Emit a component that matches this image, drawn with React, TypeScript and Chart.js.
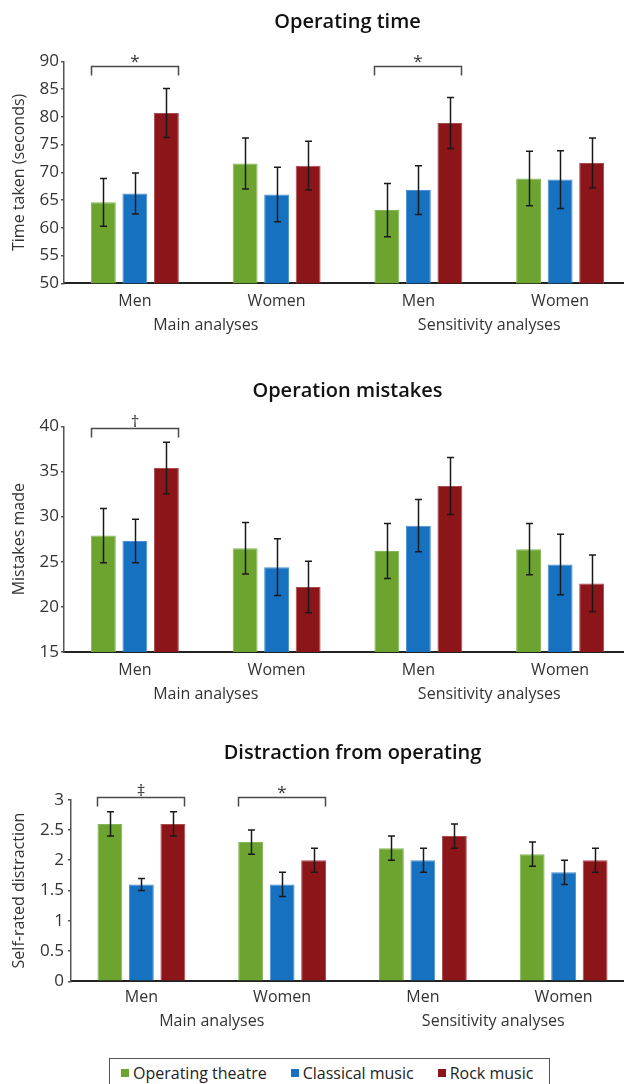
import React, { useEffect, useRef } from 'react';
import { Chart, registerables } from 'chart.js';

Chart.register(...registerables);

const FONT = '"Open Sans", "Noto Sans", sans-serif';

// ---------- data ----------
const categories = ['Men', 'Women', 'Men', 'Women'];
const analysisGroups = ['Main analyses', 'Sensitivity analyses'];
const seriesNames = ['Operating theatre', 'Classical music', 'Rock music'];
const seriesColors = ['#6ca42f', '#1672c1', '#8b1519'];
const seriesEdgeColors = ['#84b656', '#4a90d0', '#a94a4d'];

// Operating time (seconds)
const timeTheatre = [64.6, 71.6, 63.2, 68.9];
const timeClassical = [66.2, 66.0, 66.8, 68.7];
const timeRock = [80.7, 71.2, 78.9, 71.7];
const timeTheatreErr = [4.3, 4.6, 4.8, 4.9];
const timeClassicalErr = [3.7, 4.9, 4.4, 5.2];
const timeRockErr = [4.4, 4.4, 4.6, 4.5];
const timeAxis = [50, 90, 5]; // min, max, step

// Operation mistakes
const mistakesTheatre = [27.9, 26.5, 26.2, 26.4];
const mistakesClassical = [27.3, 24.4, 29.0, 24.7];
const mistakesRock = [35.4, 22.2, 33.4, 22.6];
const mistakesTheatreErr = [3.0, 2.85, 3.05, 2.85];
const mistakesClassicalErr = [2.4, 3.15, 2.9, 3.35];
const mistakesRockErr = [2.85, 2.85, 3.15, 3.15];
const mistakesAxis = [15, 40, 5];

// Distraction from operating
const distractionTheatre = [2.6, 2.3, 2.2, 2.1];
const distractionClassical = [1.6, 1.6, 2.0, 1.8];
const distractionRock = [2.6, 2.0, 2.4, 2.0];
const distractionTheatreErr = [0.2, 0.2, 0.2, 0.2];
const distractionClassicalErr = [0.1, 0.2, 0.2, 0.2];
const distractionRockErr = [0.2, 0.2, 0.2, 0.2];
const distractionAxis = [0, 3, 0.5];

// significance brackets (category index + symbol), bracket level in data units
const timeBrackets = [{ cat: 0, symbol: '*' }, { cat: 2, symbol: '*' }];
const timeBracketLevel = 89.2;
const mistakesBrackets = [{ cat: 0, symbol: '†' }];
const mistakesBracketLevel = 39.8;
const distractionBrackets = [{ cat: 0, symbol: '‡' }, { cat: 1, symbol: '*' }];
const distractionBracketLevel = 3.05;

// ---------- panels ----------
type Panel = {
  title: string;
  yTitle: string;
  series: number[][];
  errors: number[][];
  axis: number[];
  brackets: { cat: number; symbol: string }[];
  bracketLevel: number;
  top: number;
  height: number;
  titlePadTop: number;
  titlePadBottom: number;
  axisWidth: number;
  rightPad: number;
  bottomPad: number;
  yTickPad: number;
  xTickPad: number;
  groupPad: number;
  categoryPercentage: number;
};

const panels: Panel[] = [
  {
    title: 'Operating time',
    yTitle: 'Time taken (seconds)',
    series: [timeTheatre, timeClassical, timeRock],
    errors: [timeTheatreErr, timeClassicalErr, timeRockErr],
    axis: timeAxis,
    brackets: timeBrackets,
    bracketLevel: timeBracketLevel,
    top: 0,
    height: 340,
    titlePadTop: 10.2,
    titlePadBottom: 27.2,
    axisWidth: 64,
    rightPad: 9,
    bottomPad: 3.7,
    yTickPad: 2,
    xTickPad: 9,
    groupPad: 7,
    categoryPercentage: 0.667,
  },
  {
    title: 'Operation mistakes',
    yTitle: 'Mistakes made',
    series: [mistakesTheatre, mistakesClassical, mistakesRock],
    errors: [mistakesTheatreErr, mistakesClassicalErr, mistakesRockErr],
    axis: mistakesAxis,
    brackets: mistakesBrackets,
    bracketLevel: mistakesBracketLevel,
    top: 360,
    height: 350,
    titlePadTop: 19.2,
    titlePadBottom: 23.2,
    axisWidth: 64,
    rightPad: 9,
    bottomPad: 5,
    yTickPad: 2,
    xTickPad: 9,
    groupPad: 7,
    categoryPercentage: 0.667,
  },
  {
    title: 'Distraction from operating',
    yTitle: 'Self-rated distraction',
    series: [distractionTheatre, distractionClassical, distractionRock],
    errors: [distractionTheatreErr, distractionClassicalErr, distractionRockErr],
    axis: distractionAxis,
    brackets: distractionBrackets,
    bracketLevel: distractionBracketLevel,
    top: 730,
    height: 310,
    titlePadTop: 11.2,
    titlePadBottom: 34.5,
    axisWidth: 71,
    rightPad: 6,
    bottomPad: 5.7,
    yTickPad: 4,
    xTickPad: 7,
    groupPad: 5,
    categoryPercentage: 0.671,
  },
];

function makeErrorPlugin(panel: Panel) {
  return {
    id: 'errorBars',
    afterDatasetsDraw(chart: any) {
      const y = chart.scales.y;
      const ctx = chart.ctx;
      ctx.save();
      ctx.strokeStyle = '#1a1a1a';
      ctx.lineWidth = 1.5;
      chart.data.datasets.forEach((ds: any, di: number) => {
        const meta = chart.getDatasetMeta(di);
        meta.data.forEach((bar: any, i: number) => {
          const v = ds.data[i];
          const e = panel.errors[di][i];
          const x = Math.round(bar.x) + 0.5;
          const yt = y.getPixelForValue(v + e);
          const yb = y.getPixelForValue(v - e);
          const cap = 3.5;
          ctx.beginPath();
          ctx.moveTo(x, yt);
          ctx.lineTo(x, yb);
          ctx.moveTo(x - cap, yt);
          ctx.lineTo(x + cap, yt);
          ctx.moveTo(x - cap, yb);
          ctx.lineTo(x + cap, yb);
          ctx.stroke();
        });
      });
      ctx.restore();
    },
  };
}

function makeBracketPlugin(panel: Panel) {
  return {
    id: 'sigBrackets',
    afterDatasetsDraw(chart: any) {
      const y = chart.scales.y;
      const ctx = chart.ctx;
      const n = chart.data.datasets.length;
      const first = chart.getDatasetMeta(0);
      const last = chart.getDatasetMeta(n - 1);
      const ly = Math.round(y.getPixelForValue(panel.bracketLevel)) + 0.5;
      const drop = 9;
      ctx.save();
      ctx.strokeStyle = '#4a4a4a';
      ctx.lineWidth = 1.5;
      ctx.fillStyle = '#333';
      ctx.font = `17px ${FONT}`;
      ctx.textAlign = 'center';
      ctx.textBaseline = 'alphabetic';
      panel.brackets.forEach((b) => {
        const a = first.data[b.cat];
        const c = last.data[b.cat];
        const x0 = Math.round(a.x - a.width / 2) + 0.5;
        const x1 = Math.round(c.x + c.width / 2) - 0.5;
        ctx.beginPath();
        ctx.moveTo(x0, ly + drop);
        ctx.lineTo(x0, ly);
        ctx.lineTo(x1, ly);
        ctx.lineTo(x1, ly + drop);
        ctx.stroke();
        const m = ctx.measureText(b.symbol);
        const cy = ly - 7.5;
        const base = cy + (m.actualBoundingBoxAscent - m.actualBoundingBoxDescent) / 2;
        ctx.fillText(b.symbol, (x0 + x1) / 2, base);
      });
      ctx.restore();
    },
  };
}

function BarPanel({ panel }: { panel: Panel }) {
  const ref = useRef<HTMLCanvasElement>(null);
  useEffect(() => {
    const canvas = ref.current;
    if (!canvas) return;
    const [yMin, yMax, yStep] = panel.axis;
    const chart = new Chart(canvas, {
      type: 'bar',
      data: {
        labels: categories,
        datasets: panel.series.map((data, i) => ({
          label: seriesNames[i],
          data,
          backgroundColor: seriesColors[i],
          borderColor: seriesEdgeColors[i],
          borderWidth: 1,
          categoryPercentage: panel.categoryPercentage,
          barPercentage: 0.79,
        })),
      },
      options: {
        responsive: false,
        animation: false,
        devicePixelRatio: 1,
        events: [],
        layout: { padding: { top: 0, left: 0, right: panel.rightPad, bottom: panel.bottomPad } },
        plugins: {
          legend: { display: false },
          tooltip: { enabled: false },
          title: {
            display: true,
            text: panel.title,
            fullSize: false,
            color: '#111',
            font: { family: FONT, size: 20, weight: '600' },
            padding: { top: panel.titlePadTop, bottom: panel.titlePadBottom },
          },
        },
        scales: {
          x: {
            type: 'category',
            position: 'bottom',
            weight: 0,
            grid: { display: false, drawTicks: false },
            border: { display: true, color: '#222', width: 2 },
            ticks: {
              color: '#333',
              font: { family: FONT, size: 16 },
              padding: panel.xTickPad,
              maxRotation: 0,
              autoSkip: false,
            },
            afterFit: (s: any) => {
              s.height = 26;
            },
          },
          x2: {
            type: 'category',
            position: 'bottom',
            weight: 1,
            labels: analysisGroups,
            offset: true,
            grid: { display: false, drawTicks: false },
            border: { display: false },
            ticks: {
              color: '#333',
              font: { family: FONT, size: 16 },
              padding: panel.groupPad,
              maxRotation: 0,
              autoSkip: false,
            },
            afterFit: (s: any) => {
              s.height = 27;
            },
          },
          y: {
            min: yMin,
            max: yMax,
            ticks: {
              stepSize: yStep,
              color: '#333',
              font: { family: FONT, size: 17 },
              padding: panel.yTickPad,
              callback: (v: any) => String(Number(v)),
            },
            grid: {
              display: true,
              drawOnChartArea: false,
              drawTicks: true,
              tickLength: 3,
              color: '#555',
              lineWidth: 1.5,
            },
            border: { display: true, color: '#555', width: 1.5 },
            title: {
              display: true,
              text: panel.yTitle,
              color: '#333',
              font: { family: FONT, size: 16 },
              padding: { top: 10, bottom: 0 },
            },
            afterFit: (s: any) => {
              s.width = panel.axisWidth;
            },
          },
        },
      } as any,
      plugins: [makeErrorPlugin(panel), makeBracketPlugin(panel)],
    });
    return () => chart.destroy();
  }, [panel]);
  return (
    <canvas
      ref={ref}
      width={640}
      height={panel.height}
      style={{ position: 'absolute', left: 0, top: panel.top, width: 640, height: panel.height }}
    />
  );
}

function Legend() {
  return (
    <div
      style={{
        position: 'absolute',
        left: 109,
        top: 1058,
        width: 441,
        height: 40,
        boxSizing: 'border-box',
        border: '1px solid #555',
        display: 'flex',
        alignItems: 'flex-start',
        paddingLeft: 11,
        paddingTop: 4,
        fontFamily: FONT,
        fontSize: 16,
        lineHeight: '20px',
        color: '#222',
      }}
    >
      {seriesNames.map((name, i) => (
        <div key={name} style={{ display: 'flex', alignItems: 'center', marginRight: i < seriesNames.length - 1 ? 24 : 0 }}>
          <span style={{ display: 'inline-block', width: 8, height: 8, background: seriesColors[i], marginRight: 4 }} />
          <span>{name}</span>
        </div>
      ))}
    </div>
  );
}

export default function App() {
  return (
    <div
      style={{
        position: 'fixed',
        left: 0,
        top: 0,
        width: 624,
        height: 1084,
        overflow: 'hidden',
        background: '#fff',
      }}
    >
      {panels.map((p) => (
        <BarPanel key={p.title} panel={p} />
      ))}
      <Legend />
    </div>
  );
}
